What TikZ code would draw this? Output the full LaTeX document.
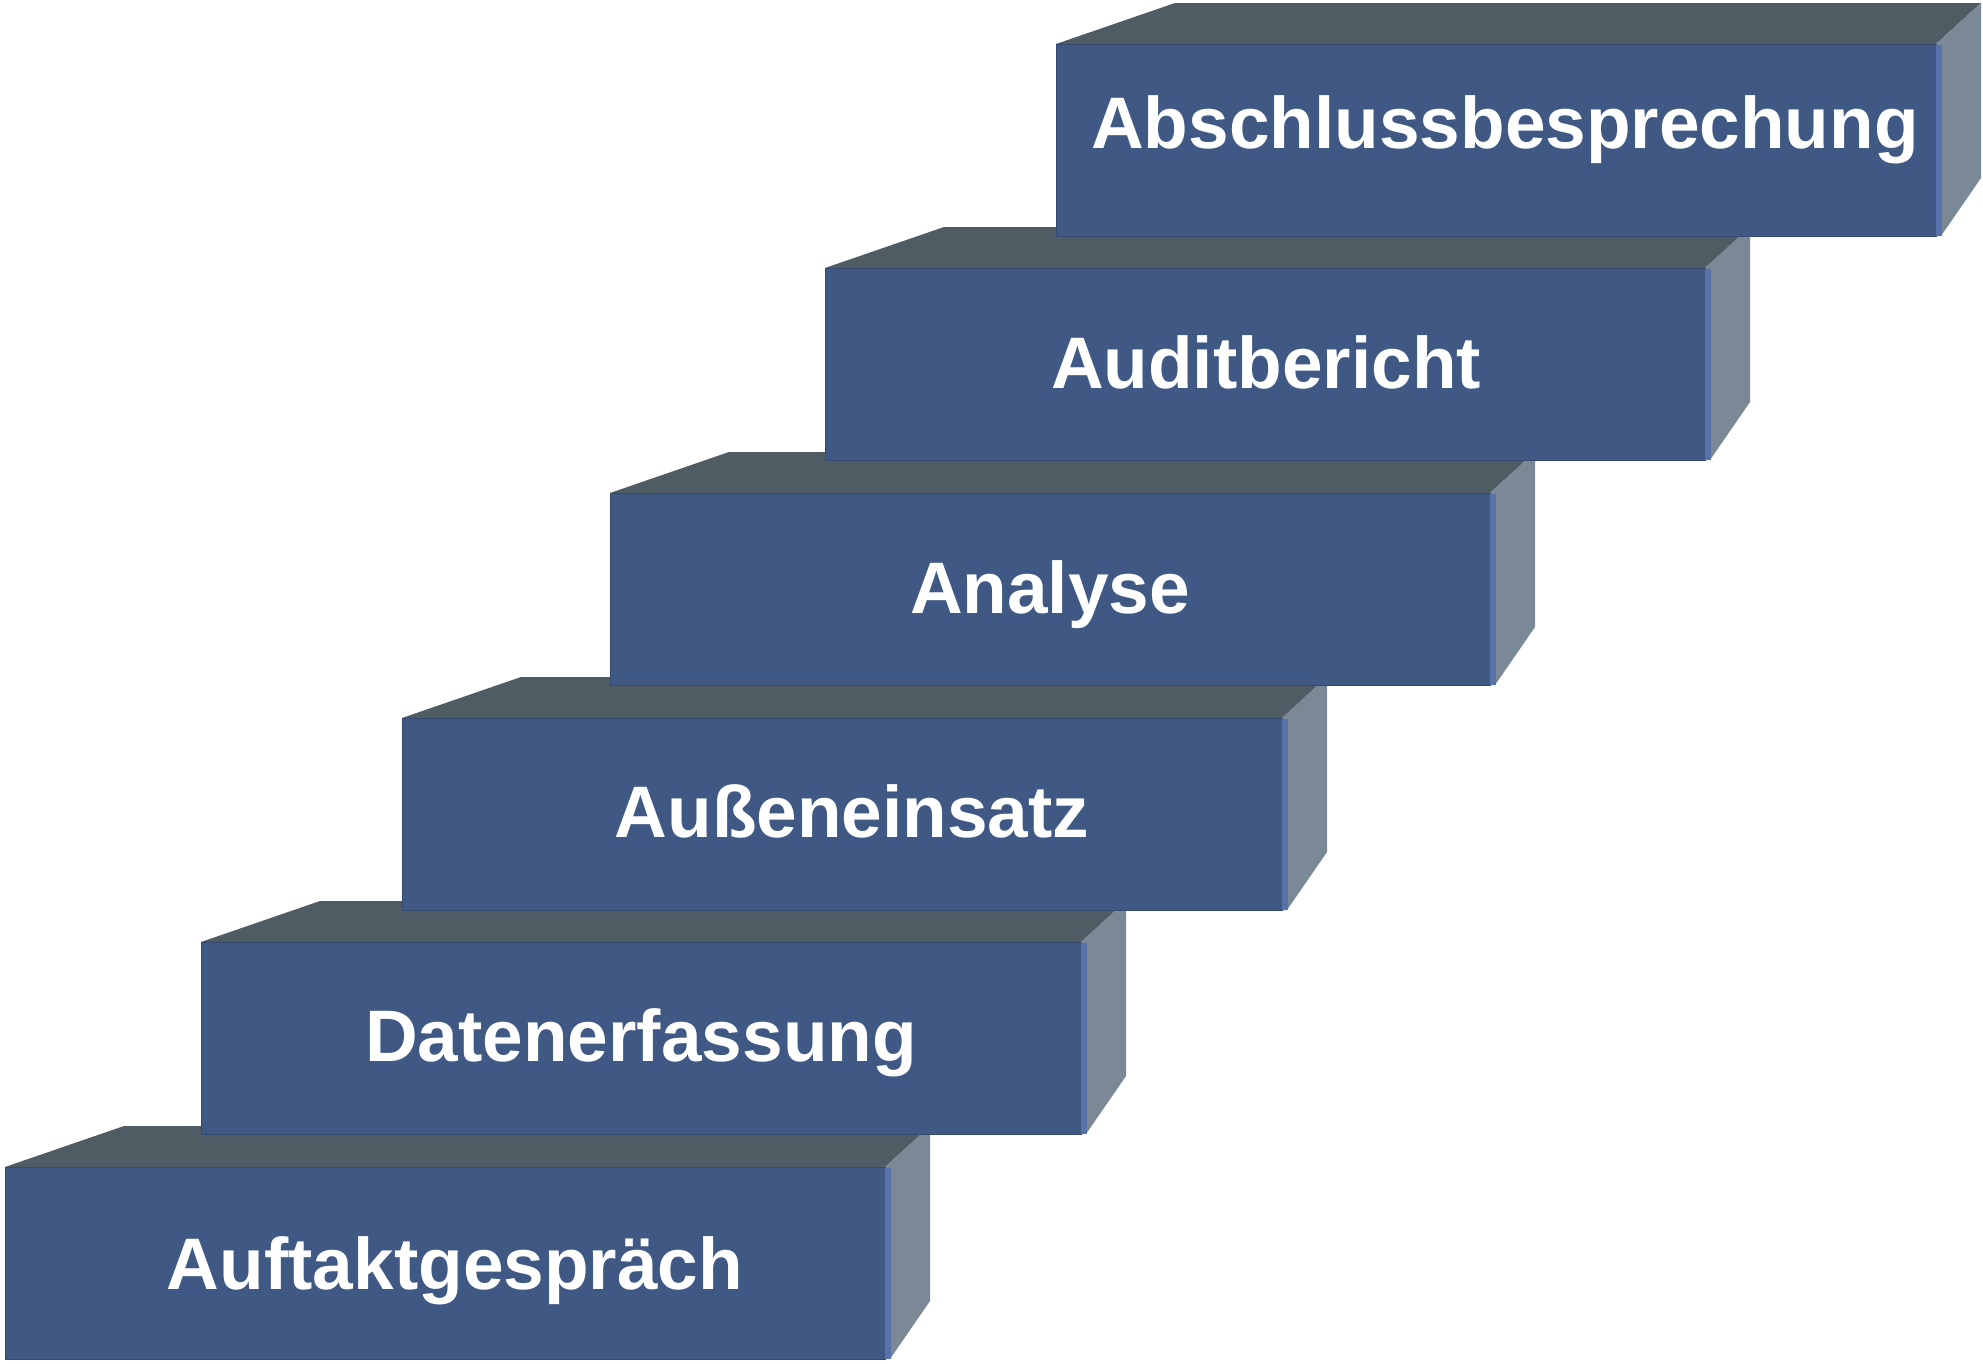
\documentclass[tikz,border=0pt]{standalone}
\usepackage{fontspec}
\setmainfont{Liberation Sans}
\definecolor{frontc}{RGB}{63,88,132}
\definecolor{edgec}{RGB}{52,74,114}
\definecolor{topc}{RGB}{80,92,99}
\definecolor{sidec}{RGB}{122,137,149}
\definecolor{stripc}{RGB}{88,114,172}
\begin{document}
\begin{tikzpicture}[x=1pt,y=-1pt,
  frontbox/.style={rectangle, fill=frontc, draw=edgec, line width=1.2pt, inner sep=0pt,
    minimum width=880pt, minimum height=192pt, anchor=north west},
  topface/.style={fill=topc},
  sideface/.style={fill=sidec},
  edgestrip/.style={fill=stripc},
  steplabel/.style={text=white, font=\fontsize{73}{80}\selectfont\bfseries, anchor=base, inner sep=0pt}]
\useasboundingbox (0,0) rectangle (1983,1363);
\fill[white] (0,0) rectangle (1983,1363);
\foreach \i/\L/\T/\txt/\tx/\ty in {
  1/5/1167/Auftaktgespräch/455/1289,
  2/201/942/Datenerfassung/641/1061,
  3/402/718/Außeneinsatz/852/837,
  4/610/493/Analyse/1050/613,
  5/825/268/Auditbericht/1266/388,
  6/1056/44/Abschlussbesprechung/1505/148}{
  \path (\L,\T) coordinate (c\i);
  \fill[topface] (c\i) -- ++(119,-41) -- ++(806,0) -- ++(-45,41) -- cycle;
  \fill[sideface] ([xshift=880pt]c\i) -- ++(45,-41) -- ++(0,175) -- ++(-40,58) -- ++(-5,0) -- cycle;
  \node[frontbox] (b\i) at (c\i) {};
  \fill[edgestrip] ([xshift=-1pt,yshift=-1pt]b\i.north east) rectangle ([xshift=5pt,yshift=1pt]b\i.south east);
  \node[steplabel] (t\i) at (\tx,\ty) {\txt};
}
\end{tikzpicture}
\end{document}
